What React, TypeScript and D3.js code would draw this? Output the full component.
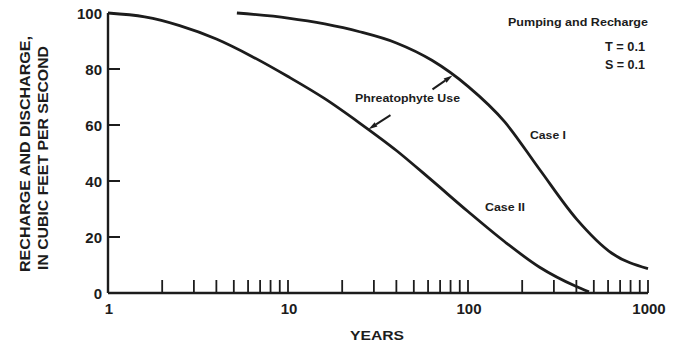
import React from "react";
import * as d3 from "d3";

// Case I: recharge/discharge response with delayed start
const caseIYears = [5.2, 10, 16, 25, 40, 63, 100, 160, 250, 400, 630, 1000];
const caseIValues = [100, 98.2, 96.1, 93.3, 89.3, 83.1, 73.8, 61.1, 44.1, 26.5, 14.2, 8.7];

// Case II: response starting at year 1
const caseIIYears = [1, 1.6, 2.5, 4, 6.3, 10, 16, 25, 40, 63, 100, 160, 250, 400, 470];
const caseIIValues = [100, 98.6, 95.5, 90.7, 84.5, 77.3, 69.4, 60.7, 50.9, 40.2, 29.1, 18.3, 9.2, 2.3, 0.4];

const yTicks = [0, 20, 40, 60, 80, 100];
const xTickLabels = [1, 10, 100, 1000];
const xMinorTicks = [2, 3, 4, 5, 6, 7, 8, 9, 10, 20, 30, 40, 50, 60, 70, 80, 90, 100, 200, 300, 400, 500, 600, 700, 800, 900, 1000];

// Phreatophyte Use arrows point at these curve points
const arrowTargetsYear = [82, 28];
const arrowTargetsValue = [77.7, 58.5];

const W = 682;
const H = 346;
const INK = "#1c1c1c";
const FONT = "'Liberation Sans', Arial, Helvetica, sans-serif";

export default function App() {
  const x = d3.scaleLog().domain([1, 1000]).range([108, 648]);
  const y = d3.scaleLinear().domain([0, 100]).range([293, 13]);

  const line = d3
    .line<[number, number]>()
    .x((d) => x(d[0]))
    .y((d) => y(d[1]))
    .curve(d3.curveMonotoneX);

  const caseI = caseIYears.map((yr, i) => [yr, caseIValues[i]] as [number, number]);
  const caseII = caseIIYears.map((yr, i) => [yr, caseIIValues[i]] as [number, number]);

  const x0 = x(1);
  const x1 = x(1000);
  const y0 = y(0);

  // arrow tails offset from tips (pixels)
  const tails = [
    [-20, 14],
    [22, -14],
  ];

  const arrow = (tx: number, ty: number, dx: number, dy: number, key: number) => {
    const sx = tx + dx;
    const sy = ty + dy;
    const len = Math.hypot(dx, dy);
    const ux = -dx / len;
    const uy = -dy / len;
    const hl = 9;
    const hw = 2.6;
    const bx = tx - ux * hl;
    const by = ty - uy * hl;
    const px = -uy;
    const py = ux;
    return (
      <g key={key}>
        <line x1={sx} y1={sy} x2={bx} y2={by} stroke={INK} strokeWidth={2} />
        <path
          d={`M${tx},${ty}L${bx + px * hw},${by + py * hw}L${bx - px * hw},${by - py * hw}Z`}
          fill={INK}
        />
      </g>
    );
  };

  return (
    <svg
      width={W}
      height={H}
      style={{ position: "absolute", left: 0, top: 0, background: "#fff" }}
      fontFamily={FONT}
      fontWeight="bold"
      fill={INK}
    >
      <rect width={W} height={H} fill="#fff" />

      {/* axes */}
      <line x1={x0} y1={y(100)} x2={x0} y2={y0} stroke={INK} strokeWidth={2.4} />
      <line x1={x0} y1={y0} x2={x1} y2={y0} stroke={INK} strokeWidth={2.4} />

      {yTicks
        .filter((v) => v > 0 && v < 100)
        .map((v) => (
          <line key={v} x1={x0} x2={x0 + 12} y1={y(v)} y2={y(v)} stroke={INK} strokeWidth={2} />
        ))}
      {xMinorTicks.map((v) => (
        <line key={v} x1={x(v)} x2={x(v)} y1={y0} y2={y0 - 13} stroke={INK} strokeWidth={1.8} />
      ))}

      {yTicks.map((v) => (
        <text key={v} x={102} y={y(v) + 5.5} textAnchor="end" fontSize={15}>
          {v}
        </text>
      ))}
      {xTickLabels.map((v) => (
        <text key={v} x={x(v) + 1} y={313.5} textAnchor="middle" fontSize={15}>
          {v}
        </text>
      ))}

      <text x={377} y={340} textAnchor="middle" fontSize={13.5} textLength={54} lengthAdjust="spacingAndGlyphs">
        YEARS
      </text>

      <g transform="translate(30,154) rotate(-90)">
        <text x={0} y={0} textAnchor="middle" fontSize={14.5} textLength={236} lengthAdjust="spacingAndGlyphs">
          RECHARGE AND DISCHARGE,
        </text>
        <text x={-4} y={18} textAnchor="middle" fontSize={14.5} textLength={224} lengthAdjust="spacingAndGlyphs">
          IN CUBIC FEET PER SECOND
        </text>
      </g>

      {/* curves */}
      <path d={line(caseI) ?? ""} fill="none" stroke={INK} strokeWidth={2.8} />
      <path d={line(caseII) ?? ""} fill="none" stroke={INK} strokeWidth={2.8} />

      {arrowTargetsYear.map((yr, i) =>
        arrow(x(yr), y(arrowTargetsValue[i]), tails[i][0], tails[i][1], i)
      )}

      <text x={355} y={102} fontSize={11} textLength={105} lengthAdjust="spacingAndGlyphs">
        Phreatophyte Use
      </text>
      <text x={530} y={139} fontSize={11} textLength={36} lengthAdjust="spacingAndGlyphs">
        Case I
      </text>
      <text x={485} y={211} fontSize={11} textLength={40} lengthAdjust="spacingAndGlyphs">
        Case II
      </text>

      <text x={648} y={26} textAnchor="end" fontSize={11.5} textLength={140} lengthAdjust="spacingAndGlyphs">
        Pumping and Recharge
      </text>
      <text x={645} y={51} textAnchor="end" fontSize={12} textLength={40} lengthAdjust="spacingAndGlyphs">
        T = 0.1
      </text>
      <text x={645} y={69} textAnchor="end" fontSize={12} textLength={40} lengthAdjust="spacingAndGlyphs">
        S = 0.1
      </text>
    </svg>
  );
}
